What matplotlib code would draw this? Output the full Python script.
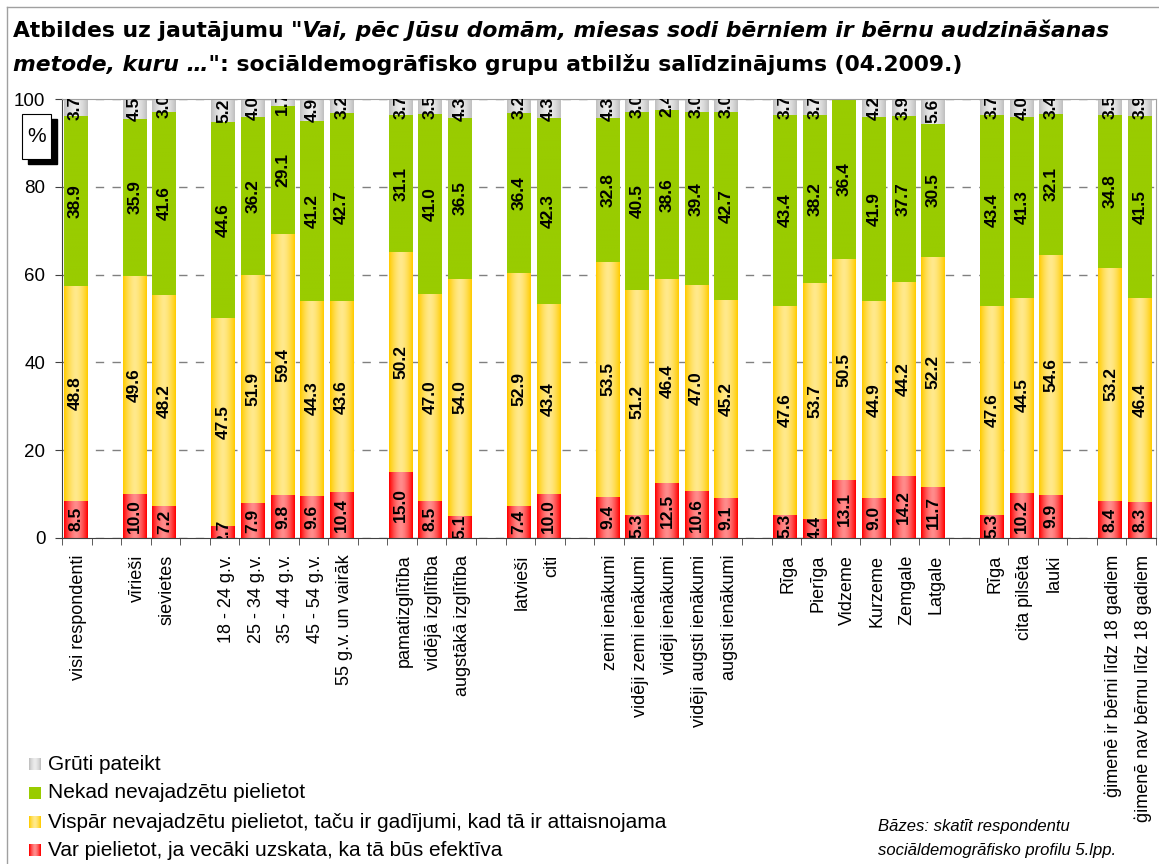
import numpy as np
import matplotlib
matplotlib.use("Agg")
import matplotlib.pyplot as plt
from matplotlib.patches import Rectangle
from matplotlib.colors import to_rgb
from matplotlib.transforms import ScaledTranslation

plt.rcParams['font.family'] = ['Liberation Sans', 'DejaVu Sans']

# ----------------------------
# Data
# ----------------------------
categories = [
    'visi respondenti',
    'vīrieši', 'sievietes',
    '18 - 24 g.v.', '25 - 34 g.v.', '35 - 44 g.v.', '45 - 54 g.v.', '55 g.v. un vairāk',
    'pamatizglītība', 'vidējā izglītība', 'augstākā izglītība',
    'latvieši', 'citi',
    'zemi ienākumi', 'vidēji zemi ienākumi', 'vidēji ienākumi',
    'vidēji augsti ienākumi', 'augsti ienākumi',
    'Rīga', 'Pierīga', 'Vidzeme', 'Kurzeme', 'Zemgale', 'Latgale',
    'Rīga', 'cita pilsēta', 'lauki',
    'ģimenē ir bērni līdz 18 gadiem', 'ģimenē nav bērnu līdz 18 gadiem',
]
group_sizes = [1, 2, 5, 3, 2, 5, 6, 3, 2]

var_pielietot = [8.5, 10.0, 7.2, 2.7, 7.9, 9.8, 9.6, 10.4, 15.0, 8.5, 5.1,
                 7.4, 10.0, 9.4, 5.3, 12.5, 10.6, 9.1, 5.3, 4.4, 13.1, 9.0,
                 14.2, 11.7, 5.3, 10.2, 9.9, 8.4, 8.3]
vispar_nevajag = [48.8, 49.6, 48.2, 47.5, 51.9, 59.4, 44.3, 43.6, 50.2, 47.0, 54.0,
                  52.9, 43.4, 53.5, 51.2, 46.4, 47.0, 45.2, 47.6, 53.7, 50.5, 44.9,
                  44.2, 52.2, 47.6, 44.5, 54.6, 53.2, 46.4]
nekad = [38.9, 35.9, 41.6, 44.6, 36.2, 29.1, 41.2, 42.7, 31.1, 41.0, 36.5,
         36.4, 42.3, 32.8, 40.5, 38.6, 39.4, 42.7, 43.4, 38.2, 36.4, 41.9,
         37.7, 30.5, 43.4, 41.3, 32.1, 34.8, 41.5]
gruti = [3.7, 4.5, 3.0, 5.2, 4.0, 1.7, 4.9, 3.2, 3.7, 3.5, 4.3,
         3.2, 4.3, 4.3, 3.0, 2.4, 3.0, 3.0, 3.7, 3.7, 0.0, 4.2,
         3.9, 5.6, 3.7, 4.0, 3.4, 3.5, 3.9]

series_names = [
    'Var pielietot, ja vecāki uzskata, ka tā būs efektīva',
    'Vispār nevajadzētu pielietot, taču ir gadījumi, kad tā ir attaisnojama',
    'Nekad nevajadzētu pielietot',
    'Grūti pateikt',
]
series_values = [var_pielietot, vispar_nevajag, nekad, gruti]
# (edge colour, centre colour) for the gradient fill
series_colors = [('#ff0000', '#ff8c8c'), ('#ffcc00', '#ffe98c'),
                 ('#99cc00', '#99cc00'), ('#c0c0c0', '#ececec')]

# slot positions: groups separated by one empty slot
slots = []
pos = 0
for g in group_sizes:
    slots.extend(range(pos, pos + g))
    pos += g + 1
n_slots = pos - 1
x = np.array(slots) + 0.46
bar_w = 0.81


def gradient_img(edge, center, n=40):
    e = np.array(to_rgb(edge))
    c = np.array(to_rgb(center))
    t = np.linspace(-1, 1, n)
    w = 1 - np.abs(t) ** 1.6
    return (e[None, :] + (c - e)[None, :] * w[:, None])[None, :, :]


W, H = 1159, 864
fig = plt.figure(figsize=(W / 100, H / 100), dpi=100)
ax = fig.add_axes([62 / W, 1 - 538 / H, (1156 - 62) / W, (538 - 99) / H])

bottom = np.zeros(len(categories))
for vals, (edge, center) in zip(series_values, series_colors):
    vals = np.array(vals)
    img = gradient_img(edge, center)
    for xi, b, v in zip(x, bottom, vals):
        if v <= 0:
            continue
        ax.imshow(img, extent=(xi - bar_w / 2, xi + bar_w / 2, b, b + v),
                  aspect='auto', interpolation='bilinear', zorder=2)
        ax.text(xi, b + v / 2, f'{v:.1f}', rotation=90, ha='center', va='center',
                fontsize=12.5, fontweight='bold', color='black', clip_on=True, zorder=4)
    bottom += vals

ax.set_xlim(0, n_slots)
ax.set_ylim(0, 100)

# axes styling
ax.set_yticks(np.arange(0, 101, 20))
ax.tick_params(axis='y', direction='out', length=5, pad=7, labelsize=13.5, color='#404040')
ax.set_xticks(x)
ax.set_xticklabels(categories, rotation=90, fontsize=13, va='top')
ax.tick_params(axis='x', which='major', length=0, pad=12)
ax.set_xticks(np.arange(0, n_slots + 1), minor=True)
ax.tick_params(axis='x', which='minor', direction='out', length=5, color='#404040')
shift = ScaledTranslation(3 / 100, 0, fig.dpi_scale_trans)
for lbl in ax.get_xticklabels():
    lbl.set_transform(lbl.get_transform() + shift)

ax.set_axisbelow(True)
ax.yaxis.grid(True, color='#808080', linestyle=(0, (6, 6)), linewidth=1)
ax.spines['left'].set_color('#404040')
ax.spines['bottom'].set_color('#404040')
ax.spines['top'].set_color('#a0a0a0')
ax.spines['right'].set_color('#a0a0a0')

# "%" box with shadow
fig.patches.append(Rectangle((28 / W, 1 - 164 / H), 29 / W, 45 / H, transform=fig.transFigure,
                             facecolor='black', edgecolor='black'))
fig.patches.append(Rectangle((22 / W, 1 - 159 / H), 29 / W, 45 / H, transform=fig.transFigure,
                             facecolor='white', edgecolor='black', linewidth=0.8))
fig.text(36.5 / W, 1 - 137 / H, '%', ha='center', va='center', fontsize=15)

# outer frame lines
fig.add_artist(plt.Line2D([7 / W, 7 / W], [0, 1 - 7 / H], color='#a0a0a0', lw=1))
fig.add_artist(plt.Line2D([7 / W, 1], [1 - 7 / H, 1 - 7 / H], color='#a0a0a0', lw=1))

# title with mixed styles
renderer = fig.canvas.get_renderer()


def rich_line(pieces, x0, y0, size):
    xp = x0
    for txt, style in pieces:
        t = fig.text(xp / W, 1 - y0 / H, txt, fontsize=size, fontweight='bold',
                     fontstyle=style, va='baseline', ha='left', family='DejaVu Sans')
        xp += t.get_window_extent(renderer).width


rich_line([('Atbildes uz jautājumu ', 'normal'),
           ('"Vai, pēc Jūsu domām, miesas sodi bērniem ir bērnu audzināšanas', 'italic')],
          13, 37, 15.75)
rich_line([('metode, kuru …"', 'italic'),
           (': sociāldemogrāfisko grupu atbilžu salīdzinājums (04.2009.)', 'normal')],
          13, 71, 15.75)

# legend
leg_rows = [(3, 764), (2, 793), (1, 822), (0, 850)]
for idx, yp in leg_rows:
    edge, center = series_colors[idx]
    lax = fig.add_axes([29 / W, 1 - (yp + 6) / H, 12 / W, 12 / H])
    lax.axis('off')
    lax.imshow(gradient_img(edge, center, 20), aspect='auto', interpolation='bilinear')
    fig.text(48 / W, 1 - yp / H, series_names[idx], fontsize=15, va='center', ha='left')

# base note
fig.text(878 / W, 1 - 826 / H, 'Bāzes: skatīt respondentu', fontsize=12,
         fontstyle='italic', va='center', ha='left')
fig.text(878 / W, 1 - 851 / H, 'sociāldemogrāfisko profilu 5.lpp.', fontsize=12,
         fontstyle='italic', va='center', ha='left')

fig.savefig('out.png', dpi=100)
